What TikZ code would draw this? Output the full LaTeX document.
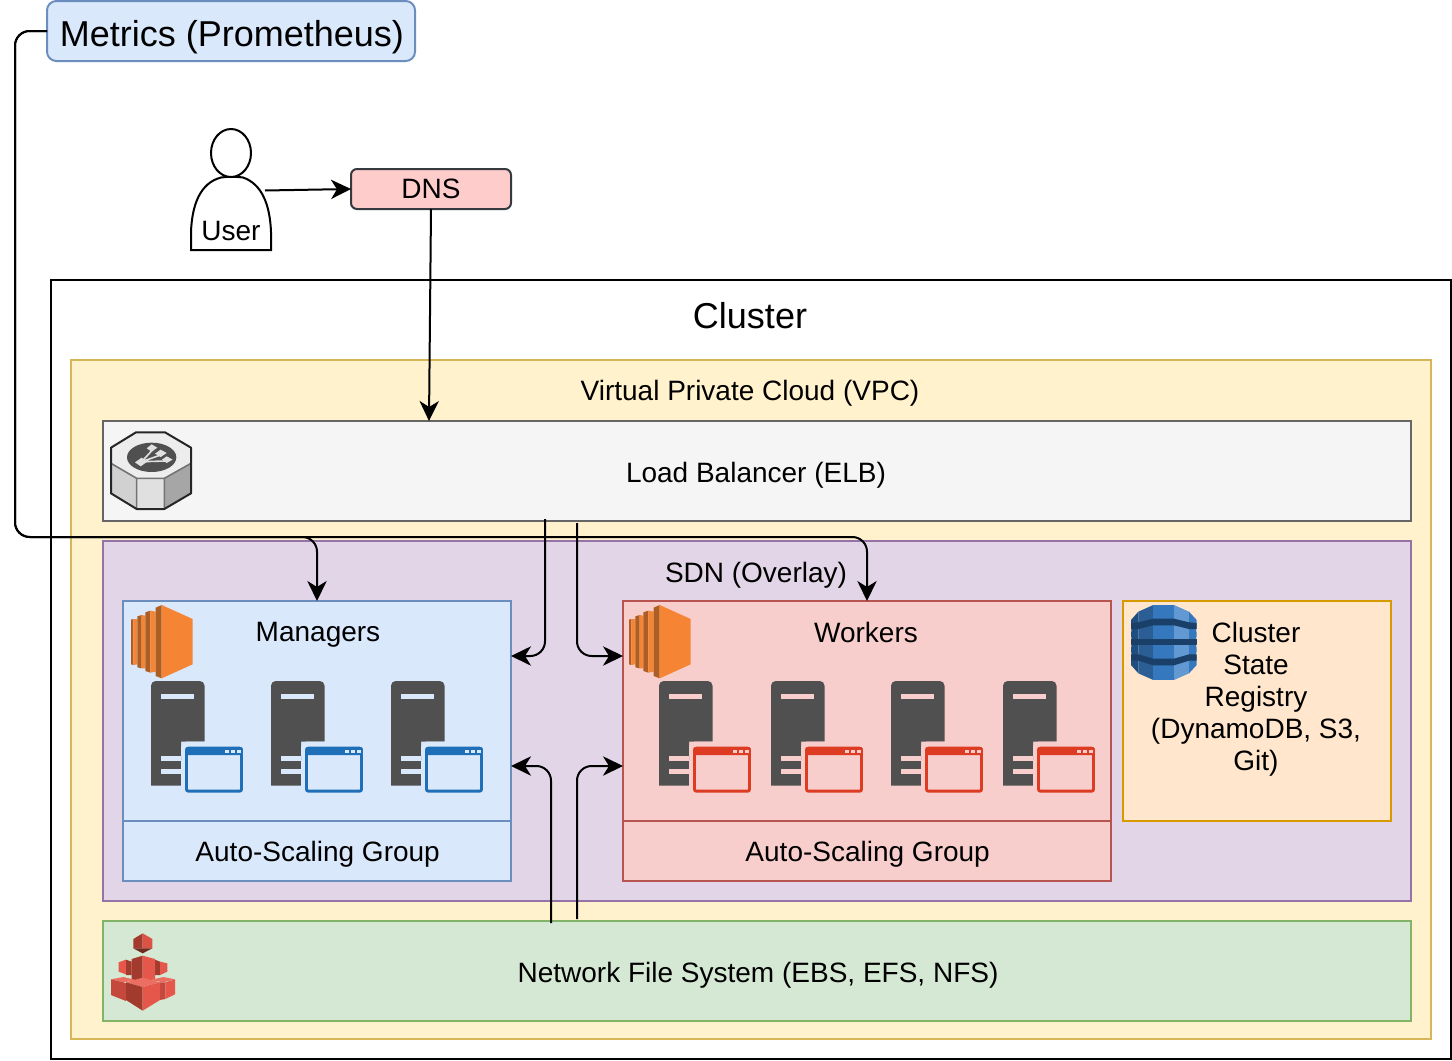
\documentclass[tikz,border=0pt]{standalone}
\usepackage{fontspec}
\setmainfont{Liberation Sans}
\usetikzlibrary{arrows.meta}
\definecolor{mfill}{HTML}{DAE8FC}\definecolor{mline}{HTML}{6C8EBF}
\definecolor{dnsfill}{HTML}{FFCCCC}\definecolor{dnsline}{HTML}{36393D}
\definecolor{vfill}{HTML}{FFF2CC}\definecolor{vline}{HTML}{D6B656}
\definecolor{gfill}{HTML}{F5F5F5}\definecolor{gline}{HTML}{666666}
\definecolor{sfill}{HTML}{E1D5E7}\definecolor{sline}{HTML}{9673A6}
\definecolor{wfill}{HTML}{F8CECC}\definecolor{wline}{HTML}{B85450}
\definecolor{rfill}{HTML}{FFE6CC}\definecolor{rline}{HTML}{D79B00}
\definecolor{nfill}{HTML}{D5E8D4}\definecolor{nline}{HTML}{82B366}
\definecolor{srv}{HTML}{505050}
\definecolor{winblue}{HTML}{1E6FB7}\definecolor{winred}{HTML}{DD3C23}
\definecolor{ecA}{HTML}{F58534}\definecolor{ecB}{HTML}{AD5F23}
\definecolor{dyA}{HTML}{1A3F68}\definecolor{dyB}{HTML}{2A5E94}\definecolor{dyC}{HTML}{3578BD}\definecolor{dyD}{HTML}{6399D3}\definecolor{dyE}{HTML}{1F4F80}
\definecolor{cuL}{HTML}{A33A2E}\definecolor{cuR}{HTML}{E5574A}\definecolor{cuT}{HTML}{EC6E62}
\tikzset{
  box/.style={draw,line width=1.5pt,inner sep=0pt,outer sep=0pt,anchor=north west,align=center,text depth=0pt,font=\fontsize{21}{24}\selectfont},
  txt/.style={inner sep=0pt,outer sep=0pt,align=center,text depth=0pt,font=\fontsize{21}{24}\selectfont},
  conn/.style={line width=1.5pt,rounded corners=11pt},
  arrow/.style={conn,-{Stealth[length=15pt,width=14.5pt,inset=4.5pt]}},
}
% name, style, x1, y1, x2, y2, text
\newcommand\pxbox[7]{%
  \pgfmathsetmacro\pxw{(#5-#3)*0.75}\pgfmathsetmacro\pxh{(#6-#4)*0.75}%
  \node[box,#2,minimum width=\pxw pt,minimum height=\pxh pt] (#1) at (#3,#4) {#7};}
% EC2 icon, dx from the Managers position
\newcommand\ecicon[1]{%
 \begin{scope}[shift={(#1,595)},x=0.25pt,y=-0.25pt]
  \fill[ecB] (33,74) -- (40,72) -- (40,210) -- (33,208) -- cycle;
  \fill[ecA] (40,72) -- (52,72) -- (52,208) -- (40,210) -- cycle;
  \fill[ecB] (52,64) -- (65,60) -- (65,220) -- (52,217) -- cycle;
  \fill[ecA] (65,60) -- (76,62) -- (76,220) -- (65,220) -- cycle;
  \fill[ecB] (76,52) -- (91,47) -- (91,233) -- (76,228) -- cycle;
  \fill[ecA] (91,47) -- (107,50) -- (107,230) -- (91,233) -- cycle;
  \fill[ecB] (107,38) -- (125,30) -- (125,250) -- (107,243) -- cycle;
  \fill[ecA] (125,30) -- (218,72) -- (218,208) -- (125,250) -- cycle;
 \end{scope}}
% server icon: x of body, window colour, background
\newcommand\srvicon[3]{%
 \begin{scope}[shift={(#1,0)}]
  \fill[srv] (0,785.5) [rounded corners=3.5pt] -- (0,681) -- (53.5,681) [sharp corners] -- (53.5,741.5) -- (30,741.5) -- (30,785.5) -- cycle;
  \fill[#3,rounded corners=5pt] (30,741.5) rectangle (60,760);
  \fill[#3] (10,694) rectangle (43,699);
  \fill[#3] (10,756) rectangle (30,761);
  \fill[#3] (10,769) rectangle (30,774);
  \fill[#3] (30,760) rectangle (34,786);
  \draw[#2,line width=2.2pt,rounded corners=1.5pt] (35.5,748.2) rectangle (90.5,791.2);
  \fill[#2,rounded corners=1pt] (34.5,747) rectangle (91.5,755);
  \fill[#3] (74.3,749.5) rectangle (77.8,753);
  \fill[#3] (80,749.5) rectangle (83.5,753);
  \fill[#3] (86,749.5) rectangle (89.5,753);
 \end{scope}}
\begin{document}
\begin{tikzpicture}[x=0.75pt,y=-0.75pt]
\useasboundingbox (0,0) rectangle (1452,1060);
\fill[white] (0,0) rectangle (1452,1060);
% containers
\pxbox{cluster}{fill=white}{51}{280}{1451}{1059}{}
\node[txt,font=\fontsize{27}{32}\selectfont] (clusterlabel) at (750,315) {Cluster};
\pxbox{vpc}{fill=vfill,draw=vline}{71}{360}{1431}{1039}{}
\node[txt] (vpclabel) at (750,390) {Virtual Private Cloud (VPC)};
\pxbox{elb}{fill=gfill,draw=gline}{103}{421}{1411}{521}{}
\node[txt] (elblabel) at (756,472) {Load Balancer (ELB)};
\pxbox{sdn}{fill=sfill,draw=sline}{103}{541}{1411}{901}{}
\node[txt] (sdnlabel) at (756,572) {SDN (Overlay)};
\pxbox{nfs}{fill=nfill,draw=nline}{103}{921}{1411}{1021}{}
\node[txt] (nfslabel) at (758,972) {Network File System (EBS, EFS, NFS)};
% managers
\pxbox{managers}{fill=mfill,draw=mline}{123}{601}{511}{881}{}
\pxbox{masg}{fill=mfill,draw=mline}{123}{821}{511}{881}{\hspace*{1pt}Auto-Scaling Group}
\node[txt] (mlabel) at (318,632) {Managers};
% workers
\pxbox{workers}{fill=wfill,draw=wline}{623}{601}{1111}{881}{}
\pxbox{wasg}{fill=wfill,draw=wline}{623}{821}{1111}{881}{\hspace*{1pt}Auto-Scaling Group}
\node[txt] (wlabel) at (866,632) {Workers};
% registry
\pxbox{registry}{fill=rfill,draw=rline}{1123}{601}{1391}{821}{}
\node[txt] (rlabel) at (1256,696) {Cluster\\State\\Registry\\(DynamoDB, S3,\\Git)};
% top nodes
\pxbox{metrics}{fill=mfill,draw=mline,rounded corners=7pt,text height=23pt,font=\fontsize{27}{32}\selectfont}{47}{1}{415}{61}{\hspace*{1.5pt}Metrics (Prometheus)}
\pxbox{dns}{fill=dnsfill,draw=dnsline,rounded corners=4.5pt}{351}{169}{511}{209}{DNS}
% user
\draw[line width=1.5pt,fill=white] (191,250) -- (191,232) .. controls (192,205) and (200,183) .. (221,177.5) .. controls (228,176.5) and (235,176.5) .. (243,177.5) .. controls (262,184) and (270,205) .. (271,232) -- (271,250) -- cycle;
\draw[line width=1.5pt,fill=white] (231,153) ellipse [x radius=20,y radius=24];
\node[txt] (user) at (231,230.5) {User};
% server icons
\foreach \sx in {151,271,391}{\srvicon{\sx}{winblue}{mfill}}
\foreach \sx in {659,771,891,1003}{\srvicon{\sx}{winred}{wfill}}
\ecicon{120}
\ecicon{618}
% load balancer icon
\begin{scope}[shift={(100,425)},x=0.25pt,y=-0.25pt]
  \fill[black!18] (33,115) -- (110,160) -- (110,252) -- (33,205) -- cycle;
  \fill[black!12] (110,160) -- (193,160) -- (193,252) -- (110,252) -- cycle;
  \fill[black!35] (193,160) -- (273,115) -- (273,205) -- (193,252) -- cycle;
  \fill[black!7] (33,68) -- (108,22) -- (195,22) -- (273,68) -- (273,115) -- (193,160) -- (110,160) -- (33,115) -- cycle;
  \draw[line width=1.2pt,black!55] (33,115) -- (110,160) -- (193,160) -- (273,115) (110,160) -- (110,252) (193,160) -- (193,252);
  \draw[line width=1.5pt,black!85,line join=round] (33,68) -- (108,22) -- (195,22) -- (273,68) -- (273,205) -- (193,252) -- (110,252) -- (33,205) -- cycle;
  \fill[srv] (155,97) ellipse [x radius=74,y radius=44];
  \draw[black!12,line width=1.2pt] (125,110) -- (160,72) (125,110) -- (182,90) (125,110) -- (200,108);
  \fill[black!12] (105,112) -- (125,98) -- (142,110) -- (122,124) -- cycle;
  \fill[black!12] (140,70) -- (155,58) -- (172,68) -- (155,80) -- cycle;
  \fill[black!12] (165,86) -- (182,74) -- (200,84) -- (182,96) -- cycle;
  \fill[black!12] (186,104) -- (200,94) -- (218,104) -- (200,114) -- cycle;
\end{scope}
% dynamodb icon
\begin{scope}[shift={(1120,595)},x=0.25pt,y=-0.25pt]
  \fill[dyE] (33,75) -- (55,50) -- (55,235) -- (33,210) -- cycle;
  \fill[dyB] (55,50) -- (100,30) -- (100,255) -- (55,235) -- cycle;
  \fill[dyC] (100,30) -- (162,30) -- (162,255) -- (100,255) -- cycle;
  \fill[dyD] (162,30) -- (207,50) -- (207,235) -- (162,255) -- cycle;
  \fill[dyC] (207,50) -- (230,75) -- (230,210) -- (207,235) -- cycle;
  \fill[dyA] (33,84) -- (55,82) -- (100,71) -- (162,71) -- (207,82) -- (230,84) -- (230,102) -- (207,102) -- (162,91) -- (100,91) -- (55,102) -- (33,102) -- cycle;
  \fill[dyA] (33,132) -- (230,132) -- (230,149) -- (33,149) -- cycle;
  \fill[dyA] (33,178) -- (55,178) -- (100,191) -- (162,191) -- (207,178) -- (230,178) -- (230,197) -- (207,197) -- (162,211) -- (100,211) -- (55,197) -- (33,197) -- cycle;
  \fill[rfill] (29,102) rectangle (34,110) (29,126) rectangle (34,132) (29,149) rectangle (34,156) (29,172) rectangle (34,178);
  \fill[rfill] (229,102) rectangle (234,110) (229,126) rectangle (234,132) (229,149) rectangle (234,156) (229,172) rectangle (234,178);
\end{scope}
% storage icon
\begin{scope}[shift={(100,925)},x=0.25pt,y=-0.25pt]
  % top cube
  \fill[cuL] (100,42) -- (128,25) -- (128,70) -- (100,70) -- cycle;
  \fill[cuR!85!cuL] (128,25) -- (157,42) -- (157,70) -- (128,70) -- cycle;
  \fill[black!30!cuL] (100,70) -- (128,70) -- (157,70) -- (128,85) -- cycle;
  % side middle cubes
  \fill[cuR] (56,112) -- (78,104) -- (78,148) -- (56,140) -- cycle;
  \fill[cuL] (78,104) -- (95,110) -- (95,150) -- (78,150) -- cycle;
  \fill[cuL] (165,104) -- (180,110) -- (180,150) -- (165,150) -- cycle;
  \fill[cuR] (180,110) -- (202,115) -- (202,140) -- (180,150) -- cycle;
  % middle cube
  \fill[cuL] (95,102) -- (128,92) -- (128,170) -- (95,165) -- cycle;
  \fill[cuR] (128,92) -- (165,102) -- (165,165) -- (128,170) -- cycle;
  % bottom side cubes
  \fill[cuT] (33,163) -- (70,156) -- (108,165) -- (70,172) -- cycle;
  \fill[cuL!50!cuR] (33,163) -- (70,172) -- (78,175) -- (78,228) -- (33,210) -- cycle;
  \fill[cuT] (150,165) -- (190,156) -- (225,163) -- (190,172) -- cycle;
  \fill[cuL!50!cuR] (180,172) -- (196,172) -- (196,222) -- (180,225) -- cycle;
  \fill[cuR] (196,172) -- (225,163) -- (225,208) -- (196,222) -- cycle;
  % front cube
  \fill[cuT] (78,172) -- (128,158) -- (180,172) -- (128,186) -- cycle;
  \fill[cuL] (78,172) -- (128,186) -- (128,257) -- (78,225) -- cycle;
  \fill[cuR] (128,186) -- (180,172) -- (180,225) -- (128,257) -- cycle;
\end{scope}
% free ends
\coordinate (mcorner) at (15,31);
\coordinate (bus) at (15,537);
\coordinate (dnsout) at (431,209);
\coordinate (elbin) at (429,421);
\coordinate (userout) at (265,190.5);
\coordinate (lbm) at (545,519);
\coordinate (lbw) at (577,523);
\coordinate (mtop) at (317,601);
\coordinate (wtop) at (867,601);
\coordinate (mupper) at (511,656);
\coordinate (wupper) at (623,656);
\coordinate (mlower) at (511,766);
\coordinate (wlower) at (623,766);
\coordinate (nfsm) at (551,923);
\coordinate (nfsw) at (577,919);
% connectors
\draw[arrow] (userout) -- (dns.west);
\draw[arrow] (dnsout) -- (elbin);
\draw[arrow] (metrics.west) -- (mcorner) -- (bus) -- (bus -| mtop) -- (mtop);
\draw[arrow] (metrics.west) -- (mcorner) -- (bus) -- (bus -| wtop) -- (wtop);
\draw[arrow] (lbm) -- (lbm |- mupper) -- (mupper);
\draw[arrow] (lbw) -- (lbw |- wupper) -- (wupper);
\draw[arrow] (nfsm) -- (nfsm |- mlower) -- (mlower);
\draw[arrow] (nfsw) -- (nfsw |- wlower) -- (wlower);
\end{tikzpicture}
\end{document}
